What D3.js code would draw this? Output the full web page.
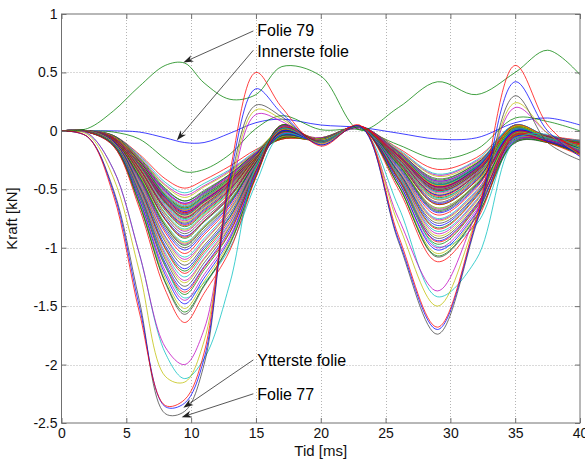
<!DOCTYPE html>
<html>
<head>
<meta charset="utf-8">
<script src="https://cdn.jsdelivr.net/npm/d3@7"></script>
<style>
	html, body { margin: 0; padding: 0; background: #ffffff; }
	svg { display: block; font-family: "Liberation Sans", Arial, sans-serif; }
</style>
</head>
<body>
<div id="chart"></div>
<script>
const knotTimes = [0, 2, 4, 6, 8, 9.5, 11, 13, 15, 17, 20, 23, 26, 29, 32, 35, 37.5, 40];

// force (kN) per foil, innermost first
const foilsInner = [
	[0, 0, 0, -0.01, -0.06, -0.1, -0.1, -0.02, 0.07, 0.1, 0.05, 0.03, -0.02, -0.07, -0.06, 0.07, 0.11, 0.05],
	[0, 0, -0.01, -0.07, -0.24, -0.35, -0.33, -0.2, 0.02, 0.13, 0.01, 0.01, -0.12, -0.24, -0.16, 0.11, 0.08, 0.0],
	[0, 0, -0.04, -0.2, -0.41, -0.49, -0.42, -0.3, -0.16, -0.07, -0.06, 0.03, -0.15, -0.33, -0.23, 0.03, -0.04, -0.08],
	[0, 0, -0.04, -0.21, -0.44, -0.53, -0.45, -0.33, -0.17, -0.01, -0.07, 0.03, -0.16, -0.37, -0.25, 0.05, -0.05, -0.08],
	[0, 0, -0.04, -0.22, -0.46, -0.55, -0.47, -0.34, -0.18, -0.03, -0.07, 0.02, -0.17, -0.38, -0.26, 0.0, -0.05, -0.09],
	[0, 0, -0.05, -0.23, -0.47, -0.57, -0.48, -0.35, -0.18, 0.01, -0.07, 0.03, -0.17, -0.39, -0.27, 0.04, -0.05, -0.09],
	[0, 0, -0.05, -0.24, -0.5, -0.6, -0.51, -0.37, -0.19, -0.05, -0.07, 0.04, -0.18, -0.41, -0.28, 0.01, -0.05, -0.09],
	[0, 0, -0.05, -0.25, -0.51, -0.62, -0.53, -0.38, -0.19, -0.02, -0.07, 0.03, -0.19, -0.43, -0.29, 0.05, -0.05, -0.09],
	[0, 0, -0.04, -0.23, -0.49, -0.6, -0.52, -0.37, -0.19, -0.07, -0.06, 0.03, -0.18, -0.42, -0.28, 0.0, -0.04, -0.1],
	[0, 0, -0.05, -0.25, -0.52, -0.63, -0.54, -0.39, -0.19, 0.0, -0.07, 0.04, -0.19, -0.44, -0.3, 0.03, -0.05, -0.1],
	[0, 0, -0.05, -0.26, -0.53, -0.64, -0.54, -0.4, -0.19, -0.06, -0.07, 0.03, -0.19, -0.44, -0.3, 0.05, -0.05, -0.09],
	[0, 0, -0.05, -0.25, -0.52, -0.62, -0.53, -0.38, -0.19, -0.01, -0.06, 0.03, -0.18, -0.43, -0.29, 0.01, -0.04, -0.1],
	[0, 0, -0.05, -0.26, -0.55, -0.66, -0.56, -0.41, -0.2, -0.03, -0.07, 0.03, -0.2, -0.46, -0.31, 0.04, -0.05, -0.1],
	[0, 0, -0.05, -0.26, -0.54, -0.65, -0.55, -0.4, -0.2, 0.01, -0.07, 0.04, -0.2, -0.45, -0.31, 0.0, -0.05, -0.1],
	[0, 0, -0.05, -0.27, -0.56, -0.67, -0.57, -0.42, -0.2, -0.05, -0.07, 0.03, -0.2, -0.46, -0.31, 0.03, -0.05, -0.1],
	[0, 0, -0.05, -0.26, -0.55, -0.66, -0.56, -0.41, -0.2, -0.02, -0.07, 0.03, -0.2, -0.46, -0.31, -0.02, -0.06, -0.11],
	[0, 0, -0.05, -0.27, -0.56, -0.68, -0.58, -0.42, -0.2, -0.07, -0.07, 0.03, -0.2, -0.47, -0.32, 0.02, -0.05, -0.1],
	[0, 0, -0.06, -0.27, -0.56, -0.67, -0.57, -0.42, -0.2, 0.0, -0.07, 0.04, -0.2, -0.46, -0.31, 0.05, -0.05, -0.11],
	[0, 0, -0.06, -0.28, -0.57, -0.69, -0.59, -0.43, -0.2, -0.06, -0.07, 0.03, -0.21, -0.48, -0.32, -0.01, -0.06, -0.11],
	[0, 0, -0.05, -0.27, -0.57, -0.68, -0.58, -0.42, -0.2, -0.02, -0.07, 0.03, -0.2, -0.47, -0.32, 0.02, -0.05, -0.1]
];

const foilsMiddle = [
	[0, 0, -0.06, -0.28, -0.58, -0.7, -0.6, -0.43, -0.21, -0.06, -0.07, 0.03, -0.21, -0.48, -0.33, -0.03, -0.06, -0.11],
	[0, 0, -0.06, -0.28, -0.57, -0.69, -0.59, -0.43, -0.2, 0.0, -0.07, 0.04, -0.21, -0.48, -0.32, 0.03, -0.05, -0.11],
	[0, 0, -0.06, -0.28, -0.59, -0.71, -0.6, -0.44, -0.21, -0.04, -0.07, 0.03, -0.21, -0.49, -0.33, -0.01, -0.06, -0.1],
	[0, 0, -0.06, -0.28, -0.58, -0.7, -0.6, -0.43, -0.21, 0.01, -0.08, 0.03, -0.21, -0.48, -0.33, 0.04, -0.05, -0.11],
	[0, 0, -0.06, -0.29, -0.6, -0.72, -0.61, -0.45, -0.21, -0.05, -0.07, 0.03, -0.22, -0.5, -0.34, -0.04, -0.06, -0.12],
	[0, 0, -0.06, -0.28, -0.59, -0.71, -0.6, -0.44, -0.21, -0.01, -0.07, 0.04, -0.21, -0.49, -0.33, 0.01, -0.06, -0.11],
	[0, 0, -0.06, -0.29, -0.61, -0.73, -0.62, -0.45, -0.21, -0.06, -0.08, 0.03, -0.22, -0.5, -0.34, 0.04, -0.06, -0.12],
	[0, 0, -0.06, -0.29, -0.6, -0.72, -0.61, -0.45, -0.21, 0.01, -0.07, 0.03, -0.22, -0.5, -0.34, -0.02, -0.05, -0.12],
	[0, 0, -0.06, -0.3, -0.61, -0.74, -0.63, -0.46, -0.22, -0.04, -0.08, 0.03, -0.22, -0.51, -0.35, 0.02, -0.06, -0.12],
	[0, 0, -0.06, -0.3, -0.62, -0.75, -0.64, -0.47, -0.22, -0.02, -0.07, 0.03, -0.23, -0.52, -0.35, -0.04, -0.06, -0.12],
	[0, 0, -0.06, -0.3, -0.61, -0.74, -0.63, -0.46, -0.22, -0.06, -0.08, 0.04, -0.22, -0.51, -0.35, 0.05, -0.06, -0.11],
	[0, 0, -0.06, -0.3, -0.63, -0.76, -0.65, -0.47, -0.22, 0.0, -0.08, 0.03, -0.23, -0.52, -0.36, -0.01, -0.06, -0.12],
	[0, 0, -0.06, -0.31, -0.64, -0.77, -0.65, -0.48, -0.22, -0.04, -0.08, 0.03, -0.23, -0.53, -0.36, 0.02, -0.06, -0.13],
	[0, 0, -0.06, -0.31, -0.65, -0.78, -0.66, -0.48, -0.22, 0.02, -0.07, 0.03, -0.23, -0.54, -0.37, -0.03, -0.06, -0.12],
	[0, 0, -0.06, -0.32, -0.66, -0.79, -0.67, -0.49, -0.23, -0.05, -0.08, 0.03, -0.24, -0.55, -0.37, 0.03, -0.06, -0.13],
	[0, 0, -0.06, -0.32, -0.66, -0.8, -0.68, -0.5, -0.23, -0.01, -0.08, 0.03, -0.24, -0.55, -0.38, -0.02, -0.06, -0.13],
	[0, 0, -0.07, -0.33, -0.68, -0.82, -0.7, -0.51, -0.23, -0.06, -0.08, 0.03, -0.25, -0.57, -0.39, 0.01, -0.06, -0.13],
	[0, 0, -0.06, -0.32, -0.67, -0.81, -0.69, -0.5, -0.23, 0.01, -0.08, 0.04, -0.24, -0.56, -0.38, -0.04, -0.06, -0.12],
	[0, 0, -0.07, -0.34, -0.7, -0.84, -0.71, -0.52, -0.24, -0.03, -0.08, 0.03, -0.25, -0.58, -0.39, 0.02, -0.06, -0.13],
	[0, 0, -0.07, -0.34, -0.71, -0.86, -0.73, -0.53, -0.24, 0.0, -0.08, 0.03, -0.26, -0.59, -0.4, -0.01, -0.06, -0.14],
	[0, 0, -0.07, -0.34, -0.71, -0.85, -0.72, -0.53, -0.24, -0.05, -0.08, 0.03, -0.26, -0.59, -0.4, 0.04, -0.06, -0.13],
	[0, 0, -0.07, -0.35, -0.73, -0.88, -0.75, -0.55, -0.24, 0.01, -0.08, 0.03, -0.26, -0.61, -0.41, -0.03, -0.07, -0.14],
	[0, 0, -0.07, -0.36, -0.75, -0.9, -0.77, -0.56, -0.25, -0.04, -0.08, 0.03, -0.27, -0.62, -0.42, 0.0, -0.07, -0.14],
	[0, 0, -0.07, -0.37, -0.76, -0.92, -0.78, -0.57, -0.25, 0.02, -0.08, 0.03, -0.28, -0.63, -0.43, 0.03, -0.07, -0.14],
	[0, 0, -0.07, -0.36, -0.76, -0.91, -0.77, -0.56, -0.25, -0.03, -0.08, 0.04, -0.27, -0.63, -0.43, -0.04, -0.06, -0.14],
	[0, 0, -0.08, -0.38, -0.79, -0.95, -0.81, -0.59, -0.26, 0.01, -0.08, 0.03, -0.29, -0.66, -0.45, 0.01, -0.07, -0.15],
	[0, 0, -0.08, -0.39, -0.81, -0.97, -0.82, -0.6, -0.26, -0.04, -0.08, 0.03, -0.29, -0.67, -0.46, -0.02, -0.07, -0.15],
	[0, 0, -0.08, -0.38, -0.8, -0.96, -0.82, -0.6, -0.26, 0.02, -0.08, 0.03, -0.29, -0.66, -0.45, 0.03, -0.07, -0.14],
	[0, 0, -0.08, -0.4, -0.83, -1.0, -0.85, -0.62, -0.27, -0.03, -0.08, 0.03, -0.3, -0.69, -0.47, -0.03, -0.07, -0.15],
	[0, 0, -0.08, -0.41, -0.85, -1.02, -0.87, -0.63, -0.27, 0.02, -0.08, 0.03, -0.31, -0.7, -0.48, 0.0, -0.07, -0.15]
];

const foilsOuter = [
	[0, 0, -0.08, -0.39, -0.81, -0.98, -0.83, -0.61, -0.27, -0.04, -0.08, 0.03, -0.29, -0.68, -0.46, -0.05, -0.07, -0.15],
	[0, 0, -0.08, -0.42, -0.87, -1.05, -0.89, -0.65, -0.28, 0.01, -0.08, 0.03, -0.32, -0.72, -0.49, -0.01, -0.07, -0.16],
	[0, 0, -0.09, -0.43, -0.9, -1.08, -0.92, -0.67, -0.29, -0.03, -0.08, 0.03, -0.32, -0.75, -0.51, -0.06, -0.07, -0.16],
	[0, 0, -0.09, -0.44, -0.91, -1.1, -0.94, -0.68, -0.29, 0.03, -0.08, 0.03, -0.33, -0.76, -0.52, -0.02, -0.08, -0.16],
	[0, 0, -0.09, -0.45, -0.93, -1.12, -0.95, -0.69, -0.3, -0.02, -0.08, 0.03, -0.34, -0.77, -0.53, -0.07, -0.08, -0.16],
	[0, 0, -0.09, -0.46, -0.95, -1.15, -0.98, -0.71, -0.3, 0.02, -0.09, 0.03, -0.35, -0.79, -0.54, -0.03, -0.08, -0.17],
	[0, 0, -0.09, -0.47, -0.98, -1.18, -1.0, -0.73, -0.31, -0.03, -0.09, 0.03, -0.35, -0.81, -0.55, -0.08, -0.08, -0.17],
	[0, 0, -0.1, -0.48, -1.0, -1.2, -1.02, -0.74, -0.31, 0.03, -0.09, 0.03, -0.36, -0.83, -0.56, -0.02, -0.08, -0.17],
	[0, 0, -0.1, -0.49, -1.01, -1.22, -1.04, -0.76, -0.32, -0.01, -0.09, 0.03, -0.37, -0.84, -0.57, -0.06, -0.08, -0.17],
	[0, 0, -0.1, -0.5, -1.04, -1.25, -1.06, -0.78, -0.32, 0.04, -0.09, 0.03, -0.38, -0.86, -0.59, -0.03, -0.08, -0.18],
	[0, 0, -0.1, -0.51, -1.06, -1.28, -1.09, -0.79, -0.33, -0.02, -0.09, 0.03, -0.38, -0.88, -0.6, -0.09, -0.08, -0.18],
	[0, 0, -0.1, -0.52, -1.08, -1.3, -1.1, -0.81, -0.33, 0.04, -0.09, 0.03, -0.39, -0.9, -0.61, -0.02, -0.09, -0.18],
	[0, 0, -0.11, -0.53, -1.1, -1.33, -1.13, -0.82, -0.34, 0.0, -0.09, 0.03, -0.4, -0.92, -0.63, -0.07, -0.09, -0.18],
	[0, -0.01, -0.11, -0.54, -1.13, -1.36, -1.16, -0.84, -0.35, 0.04, -0.09, 0.03, -0.41, -0.94, -0.64, -0.04, -0.09, -0.19],
	[0, -0.01, -0.11, -0.56, -1.16, -1.4, -1.19, -0.87, -0.35, -0.01, -0.09, 0.03, -0.42, -0.97, -0.66, -0.1, -0.09, -0.19],
	[0, -0.01, -0.11, -0.55, -1.15, -1.38, -1.17, -0.86, -0.35, 0.05, -0.09, 0.03, -0.41, -0.95, -0.65, -0.03, -0.09, -0.19],
	[0, -0.01, -0.11, -0.55, -1.15, -1.43, -1.3, -1.0, -0.45, -0.03, -0.09, 0.03, -0.38, -0.99, -0.8, -0.06, -0.06, -0.17],
	[0, -0.01, -0.12, -0.58, -1.2, -1.45, -1.23, -0.9, -0.36, 0.04, -0.1, 0.03, -0.44, -1.0, -0.68, -0.08, -0.09, -0.19],
	[0, -0.01, -0.12, -0.61, -1.26, -1.52, -1.29, -0.94, -0.38, 0.01, -0.1, 0.03, -0.46, -1.05, -0.71, -0.04, -0.1, -0.2],
	[0, -0.01, -0.13, -0.63, -1.3, -1.57, -1.33, -0.97, -0.39, 0.05, -0.1, 0.03, -0.47, -1.08, -0.74, -0.1, -0.1, -0.2],
	[0, -0.01, -0.12, -0.59, -1.23, -1.48, -1.26, -0.92, -0.37, 0.0, -0.1, 0.03, -0.44, -1.02, -0.7, -0.05, -0.09, -0.19],
	[0, -0.01, -0.12, -0.62, -1.29, -1.55, -1.32, -0.96, -0.39, 0.05, -0.1, 0.03, -0.47, -1.07, -0.73, -0.09, -0.1, -0.2],
	[0, -0.01, -0.13, -0.66, -1.36, -1.64, -1.39, -1.02, -0.4, 0.03, -0.1, 0.03, -0.5, -1.12, -0.77, -0.04, -0.1, -0.21],
	[0, -0.02, -0.33, -1.05, -1.9, -2.12, -1.95, -1.3, -0.3, 0.02, -0.1, 0.03, -0.65, -1.42, -1.1, -0.08, -0.03, -0.15],
	[0, -0.02, -0.33, -1.05, -1.85, -2.0, -1.7, -0.55, 0.14, 0.08, -0.11, 0.04, -0.75, -1.37, -0.7, 0.2, -0.02, -0.18],
	[0, -0.03, -0.4, -1.2, -2.1, -2.15, -1.8, -0.5, 0.18, 0.1, -0.11, 0.04, -0.8, -1.5, -0.75, 0.24, -0.02, -0.2],
	[0, -0.05, -0.5, -1.45, -2.42, -2.4, -2.0, -0.45, 0.22, 0.12, -0.12, 0.04, -0.95, -1.74, -0.8, 0.3, -0.1, -0.25],
	[0, -0.05, -0.52, -1.5, -2.36, -2.33, -1.95, -0.4, 0.36, 0.15, -0.12, 0.04, -0.93, -1.7, -0.78, 0.42, 0.0, -0.22],
	[0, 0.02, 0.17, 0.38, 0.56, 0.58, 0.41, 0.27, 0.31, 0.55, 0.47, 0.01, 0.2, 0.42, 0.31, 0.5, 0.69, 0.48],
	[0, -0.05, -0.55, -1.55, -2.35, -2.3, -1.9, -0.35, 0.5, 0.2, -0.13, 0.05, -0.9, -1.68, -0.75, 0.56, 0.05, -0.2]
];

// MATLAB default line colour order, cycled per foil
const lineColors = ["#0000ff", "#008000", "#ff0000", "#00bfbf", "#bf00bf", "#bfbf00", "#404040"];

const xTicks = [0, 5, 10, 15, 20, 25, 30, 35, 40];
const yTicks = [1, 0.5, 0, -0.5, -1, -1.5, -2, -2.5];

// text anchor, arrow tail and arrow head, in data units (ms, kN)
const annotLabels = ["Folie 79", "Innerste folie", "Ytterste folie", "Folie 77"];
const annotText = [[15.1, 0.81], [15.1, 0.63], [15.1, -2.01], [15.1, -2.3]];
const annotTail = [[14.8, 0.855], [14.8, 0.69], [14.8, -1.96], [14.8, -2.25]];
const annotHead = [[9.4, 0.585], [8.9, -0.08], [9.4, -2.37], [9.27, -2.45]];

class ForceChart {

	constructor(opts) {
		this.element = opts.element;
		this.width = opts.width;
		this.height = opts.height;
		this.margin = opts.margin;
		this.curves = opts.curves;
		this.draw();
	}

	draw() {
		var m = this.margin;

		this.svg = d3.select(this.element).append("svg")
			.attr("width", this.width)
			.attr("height", this.height);

		this.x = d3.scaleLinear().domain([0, 40]).range([m.left, this.width - m.right]);
		this.y = d3.scaleLinear().domain([-2.5, 1]).range([this.height - m.bottom, m.top]);

		this.addGrid();
		this.addCurves();
		this.addAxes();
		this.addAnnotations();
	}

	addGrid() {
		var x = this.x, y = this.y;
		var grid = this.svg.append("g").attr("class", "grid")
			.attr("stroke", "#b4b4b4")
			.attr("stroke-width", 1)
			.attr("stroke-dasharray", "1,2");

		grid.selectAll(".gx").data(xTicks.slice(1, -1)).join("line")
			.attr("x1", d => Math.round(x(d)) + 0.5).attr("x2", d => Math.round(x(d)) + 0.5)
			.attr("y1", y.range()[1]).attr("y2", y.range()[0]);

		grid.selectAll(".gy").data(yTicks.slice(1, -1)).join("line")
			.attr("y1", d => Math.round(y(d)) + 0.5).attr("y2", d => Math.round(y(d)) + 0.5)
			.attr("x1", x.range()[0]).attr("x2", x.range()[1]);
	}

	addCurves() {
		var that = this;
		var x0 = this.x.range()[0], y1 = this.y.range()[1];

		this.svg.append("defs").append("clipPath").attr("id", "plotclip")
		  .append("rect")
			.attr("x", x0)
			.attr("y", y1)
			.attr("width", this.x.range()[1] - x0)
			.attr("height", this.y.range()[0] - y1);

		var line = d3.line()
			.x((d, i) => that.x(knotTimes[i]))
			.y(d => that.y(d))
			.curve(d3.curveCatmullRom.alpha(0.5));

		this.svg.append("g")
			.attr("clip-path", "url(#plotclip)")
			.attr("fill", "none")
			.selectAll("path")
			.data(this.curves)
			.join("path")
			.attr("d", d => line(d))
			.attr("stroke", (d, i) => lineColors[i % lineColors.length])
			.attr("stroke-width", 0.75);
	}

	addAxes() {
		var x = this.x, y = this.y;
		var axisColor = "#707070";
		var fmt = d => String(d);

		var bottom = this.svg.append("g")
			.attr("transform", "translate(0," + y.range()[0] + ")")
			.call(d3.axisBottom(x).tickValues(xTicks).tickFormat(fmt).tickSizeInner(-5).tickSizeOuter(0).tickPadding(5));
		var left = this.svg.append("g")
			.attr("transform", "translate(" + x.range()[0] + ",0)")
			.call(d3.axisLeft(y).tickValues(yTicks).tickFormat(fmt).tickSizeInner(-5).tickSizeOuter(0).tickPadding(4));
		var top = this.svg.append("g")
			.attr("transform", "translate(0," + y.range()[1] + ")")
			.call(d3.axisTop(x).tickValues(xTicks).tickFormat("").tickSizeInner(-5).tickSizeOuter(0));
		var right = this.svg.append("g")
			.attr("transform", "translate(" + x.range()[1] + ",0)")
			.call(d3.axisRight(y).tickValues(yTicks).tickFormat("").tickSizeInner(-5).tickSizeOuter(0));

		[bottom, left, top, right].forEach(function(g) {
			g.select(".domain").remove();
			g.selectAll(".tick line").attr("stroke", axisColor);
			g.selectAll(".tick text")
				.attr("fill", "#111")
				.style("font-size", "14px")
				.style("font-family", "'Liberation Sans', Arial, sans-serif");
		});

		this.svg.append("rect")
			.attr("x", x.range()[0])
			.attr("y", y.range()[1])
			.attr("width", x.range()[1] - x.range()[0])
			.attr("height", y.range()[0] - y.range()[1])
			.attr("fill", "none")
			.attr("stroke", axisColor)
			.attr("stroke-width", 1);

		this.svg.append("text")
			.attr("x", (x.range()[0] + x.range()[1]) / 2)
			.attr("y", 456)
			.attr("text-anchor", "middle")
			.style("font-size", "15px")
			.attr("fill", "#111")
			.text("Tid [ms]");

		this.svg.append("text")
			.attr("transform", "translate(17," + (y.range()[0] + y.range()[1]) / 2 + ") rotate(-90)")
			.attr("text-anchor", "middle")
			.style("font-size", "15px")
			.attr("fill", "#111")
			.text("Kraft [kN]");
	}

	addAnnotations() {
		var x = this.x, y = this.y;
		var g = this.svg.append("g").attr("class", "annotations");

		annotLabels.forEach(function(label, i) {
			var tx = x(annotTail[i][0]), ty = y(annotTail[i][1]);
			var hx = x(annotHead[i][0]), hy = y(annotHead[i][1]);
			var ang = Math.atan2(hy - ty, hx - tx);
			var len = 10, half = 3.5, notch = 7;
			var ca = Math.cos(ang), sa = Math.sin(ang);

			// shaft stops at the notch of the head
			g.append("line")
				.attr("x1", tx).attr("y1", ty)
				.attr("x2", hx - notch * ca).attr("y2", hy - notch * sa)
				.attr("stroke", "#444")
				.attr("stroke-width", 0.9);

			var pts = [
				[hx, hy],
				[hx - len * ca - half * sa, hy - len * sa + half * ca],
				[hx - notch * ca, hy - notch * sa],
				[hx - len * ca + half * sa, hy - len * sa - half * ca]
			];
			g.append("path")
				.attr("d", "M" + pts.map(p => p[0].toFixed(2) + "," + p[1].toFixed(2)).join("L") + "Z")
				.attr("fill", "#222");

			g.append("text")
				.attr("x", x(annotText[i][0]))
				.attr("y", y(annotText[i][1]))
				.style("font-size", "16px")
				.attr("fill", "#000")
				.text(label);
		});
	}
}

new ForceChart({
	element: document.getElementById("chart"),
	width: 585,
	height: 462,
	margin: { top: 14, right: 5, bottom: 39, left: 61.5 },
	curves: foilsInner.concat(foilsMiddle, foilsOuter)
});
</script>
</body>
</html>
